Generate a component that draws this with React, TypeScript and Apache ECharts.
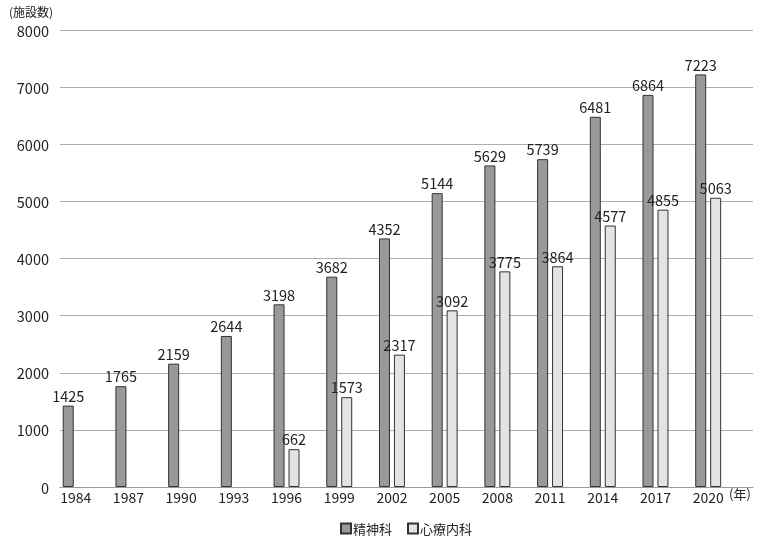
import React, { useEffect, useRef } from "react";
import * as echarts from "echarts";

const years = ["1984", "1987", "1990", "1993", "1996", "1999", "2002", "2005", "2008", "2011", "2014", "2017", "2020"];
const psychiatry = [1425, 1765, 2159, 2644, 3198, 3682, 4352, 5144, 5629, 5739, 6481, 6864, 7223];
const psychosomatic: (number | null)[] = [null, null, null, null, 662, 1573, 2317, 3092, 3775, 3864, 4577, 4855, 5063];
const yTicks = { min: 0, max: 8000, interval: 1000 };

const FONT = "'Noto Sans CJK JP', 'Noto Sans', sans-serif";

export default function App() {
  const ref = useRef<HTMLDivElement>(null);
  useEffect(() => {
    if (!ref.current) return;
    const chart = echarts.init(ref.current, undefined, { renderer: "svg" });
    const toPairs = (arr: (number | null)[]) =>
      arr.map((v, i) => (v == null ? null : [i, v])).filter((d) => d !== null);
    const labelStyle = {
      show: true,
      position: "top" as const,
      distance: 3,
      fontSize: 14.5,
      color: "#222",
      fontFamily: FONT,
    };
    chart.setOption({
      animation: false,
      textStyle: { fontFamily: FONT },
      grid: { left: 60, right: 9, top: 30, bottom: 53, containLabel: false },
      xAxis: {
        type: "value",
        min: -0.298,
        max: 12.85,
        axisLine: { show: true, lineStyle: { color: "#9a9a9a", width: 1.2 } },
        axisTick: { show: false },
        splitLine: { show: false },
        axisLabel: {
          customValues: years.map((_, i) => i),
          formatter: (v: number) => years[Math.round(v)] ?? "",
          fontSize: 14,
          color: "#222",
          margin: 3,
          fontFamily: FONT,
        },
      },
      yAxis: {
        type: "value",
        min: yTicks.min,
        max: yTicks.max,
        interval: yTicks.interval,
        axisLine: { show: false },
        axisTick: { show: false },
        splitLine: { show: true, lineStyle: { color: "#adadad", width: 1.2 } },
        axisLabel: {
          fontSize: 14.5,
          color: "#222",
          margin: 11,
          fontFamily: FONT,
          formatter: (v: number) => String(v),
        },
      },
      legend: {
        left: 335,
        top: 517,
        itemWidth: 10,
        itemHeight: 10,
        itemGap: 15,
        icon: "rect",
        textStyle: { fontSize: 13, color: "#222", fontFamily: FONT, padding: [0, 0, 0, -3] },
        data: ["精神科", "心療内科"],
      },
      graphic: [
        {
          type: "text",
          left: 9,
          top: 5,
          style: { text: "(施設数)", fontSize: 12, fill: "#222", fontFamily: FONT },
        },
        {
          type: "text",
          left: 729,
          top: 487,
          style: { text: "(年)", fontSize: 13, fill: "#222", fontFamily: FONT },
        },
      ],
      series: [
        {
          name: "精神科",
          type: "bar",
          barWidth: 11,
          barGap: "36%",
          data: toPairs(psychiatry),
          itemStyle: { color: "#999999", borderColor: "#333", borderWidth: 1 },
          label: labelStyle,
        },
        {
          name: "心療内科",
          type: "bar",
          barWidth: 11,
          barGap: "36%",
          data: toPairs(psychosomatic),
          itemStyle: { color: "#e3e3e3", borderColor: "#333", borderWidth: 1 },
          label: labelStyle,
        },
      ],
    });
    return () => chart.dispose();
  }, []);
  return <div ref={ref} style={{ width: 762, height: 540, position: "fixed", left: 0, top: 0 }} />;
}
